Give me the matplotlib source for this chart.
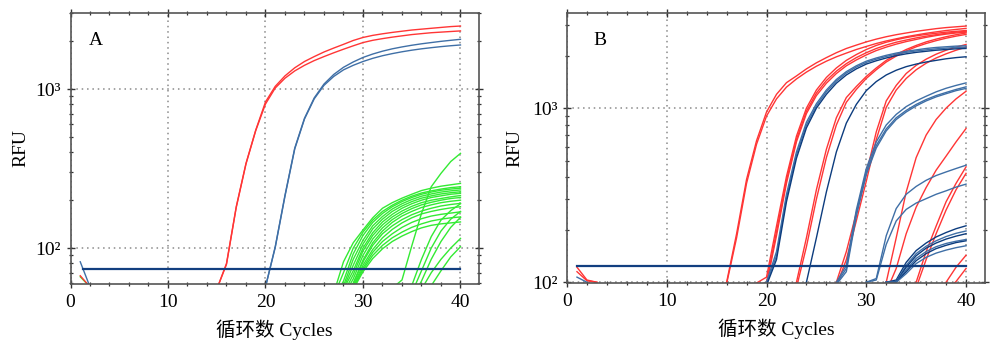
import matplotlib
matplotlib.use("Agg")
import matplotlib.pyplot as plt
import numpy as np
from matplotlib.ticker import LogLocator, NullFormatter, MultipleLocator, FixedLocator, FixedFormatter

# ---------------- data: panel A (values per cycle) ----------------
A_threshold = 73.8
A_thr_start = 1.3
A_red_start = 15
A_red = [
    [55, 80, 182, 341, 552, 830, 1040, 1210, 1360, 1490, 1600, 1710, 1810, 1910, 2020, 2110,
     2175, 2225, 2270, 2310, 2350, 2380, 2410, 2440, 2470, 2490],
    [55, 79, 180, 338, 548, 805, 1015, 1170, 1300, 1410, 1510, 1600, 1690, 1780, 1870, 1960,
     2025, 2075, 2120, 2160, 2200, 2230, 2260, 2280, 2300, 2320],
]
A_blue_start = 20
A_blue = [
    [57, 102, 215, 425, 655, 880, 1075, 1235, 1370, 1480, 1580, 1660, 1730, 1790, 1840, 1885,
     1925, 1960, 1995, 2025, 2055],
    [57, 101, 212, 420, 648, 868, 1055, 1200, 1320, 1410, 1490, 1560, 1620, 1670, 1715, 1755,
     1790, 1820, 1848, 1872, 1893],
]
A_green_start = 27
A_green = [
    [52, 82, 108, 130, 155, 178, 193, 206, 218, 230, 238, 245, 250, 255],
    [50, 70, 100, 126, 150, 170, 186, 200, 212, 222, 229, 235, 240, 243],
    [48, 62, 92, 120, 145, 165, 182, 196, 208, 218, 225, 231, 235, 238],
    [45, 58, 85, 112, 138, 158, 176, 190, 202, 212, 219, 225, 229, 232],
    [45, 56, 78, 106, 132, 152, 170, 184, 196, 206, 213, 219, 223, 226],
    [45, 55, 72, 100, 125, 146, 163, 178, 190, 200, 208, 213, 218, 221],
    [45, 52, 68, 96, 120, 140, 157, 171, 183, 193, 200, 205, 210, 214],
    [45, 50, 64, 90, 114, 134, 151, 165, 177, 187, 194, 200, 205, 208],
    [45, 50, 60, 84, 108, 128, 145, 159, 170, 180, 187, 193, 197, 200],
    [45, 50, 60, 82, 104, 123, 138, 151, 162, 171, 178, 184, 188, 191],
    [45, 48, 58, 78, 98, 116, 131, 144, 155, 164, 170, 175, 179, 182],
    [45, 47, 57, 75, 94, 110, 123, 135, 145, 153, 159, 163, 166, 169],
    [45, 47, 56, 73, 90, 104, 116, 126, 135, 142, 148, 152, 155, 157],
    [45, 46, 55, 71, 86, 99, 110, 119, 127, 134, 139, 142, 144, 146],
]
A_green_late_start = 33
A_green_late = [
    [56, 63, 103, 165, 243, 295, 350, 394],
    [45, 45, 58, 85, 118, 150, 172, 190],
    [45, 45, 52, 72, 100, 128, 152, 170],
    [45, 45, 48, 62, 85, 110, 135, 156],
    [45, 45, 45, 55, 70, 85, 100, 115],
    [45, 45, 45, 48, 58, 72, 88, 102],
]
A_init_start = 1
A_init_blue = [82, 57]
A_init_red = [67, 57]
A_init_green = [66, 57]

# ---------------- data: panel B ----------------
B_threshold = 124
B_thr_start = 1
B_R1_start = 15
B_R1 = [
    [90, 100, 190, 390, 650, 950, 1200, 1400, 1530, 1680, 1820, 1950, 2080, 2200, 2300, 2400,
     2490, 2570, 2640, 2700, 2760, 2810, 2860, 2900, 2930, 2960],
    [90, 98, 180, 370, 620, 900, 1130, 1320, 1470, 1610, 1740, 1860, 1970, 2070, 2170, 2260,
     2350, 2430, 2500, 2570, 2630, 2690, 2740, 2790, 2830, 2870],
]
B_R2_start = 19
B_R2 = [
    [99, 107, 210, 405, 690, 1000, 1270, 1500, 1700, 1880, 2030, 2170, 2290, 2390, 2470, 2540,
     2600, 2650, 2690, 2730, 2760, 2790],
    [90, 100, 195, 385, 660, 960, 1220, 1440, 1630, 1800, 1950, 2080, 2200, 2300, 2390, 2460,
     2530, 2590, 2640, 2690, 2730, 2760],
    [88, 97, 185, 370, 640, 930, 1180, 1390, 1580, 1750, 1890, 2020, 2140, 2240, 2330, 2410,
     2480, 2550, 2610, 2660, 2700, 2730],
]
B_R3_start = 22
B_R3 = [
    [90, 100, 180, 340, 580, 880, 1150, 1330, 1520, 1700, 1880, 2030, 2170, 2290, 2400, 2490,
     2570, 2640, 2700],
    [85, 93, 160, 300, 520, 800, 1080, 1280, 1480, 1660, 1840, 1990, 2130, 2250, 2350, 2440,
     2520, 2590, 2650],
]
B_R4_start = 26
B_R4 = [
    [90, 100, 150, 250, 420, 730, 1100, 1350, 1580, 1760, 1910, 2040, 2150, 2240, 2320],
    [88, 95, 135, 225, 380, 660, 1010, 1270, 1480, 1660, 1810, 1940, 2050, 2150, 2240],
]
B_R5_start = 31
B_R5 = [
    [90, 100, 180, 330, 520, 700, 860, 1000, 1130, 1250],
    [85, 88, 120, 190, 270, 350, 440, 530, 640, 764],
]
B_R6_start = 34
B_R6 = [
    [90, 100, 150, 210, 290, 370, 460],
    [85, 93, 135, 190, 260, 340, 422],
]
B_R7_start = 37
B_R7 = [
    [90, 100, 122, 143],
    [80, 90, 101, 120],
]
B_B2_start = 19
B_B2 = [
    [95, 100, 150, 320, 560, 830, 1060, 1270, 1460, 1620, 1750, 1860, 1940, 2010, 2070, 2120,
     2160, 2200, 2230, 2250, 2270, 2280],
    [93, 98, 142, 305, 540, 800, 1030, 1240, 1430, 1590, 1720, 1830, 1910, 1980, 2040, 2090,
     2130, 2160, 2190, 2210, 2230, 2240],
    [92, 96, 135, 290, 515, 770, 1000, 1200, 1390, 1550, 1680, 1790, 1870, 1940, 2000, 2050,
     2090, 2120, 2150, 2170, 2190, 2200],
]
B_B3_start = 23
B_B3 = [
    [90, 100, 180, 330, 560, 820, 1050, 1260, 1420, 1550, 1650, 1730, 1790, 1840, 1880, 1920,
     1950, 1972],
]
B_B4_start = 27
B_B4 = [
    [100, 125, 260, 450, 640, 800, 920, 1020, 1100, 1170, 1240, 1300, 1350, 1396],
    [98, 120, 250, 430, 610, 760, 880, 970, 1050, 1120, 1180, 1230, 1280, 1325],
    [97, 115, 240, 415, 590, 740, 860, 950, 1030, 1100, 1160, 1210, 1260, 1298],
]
B_B5_start = 30
B_B5 = [
    [100, 105, 185, 265, 320, 355, 385, 410, 430, 450, 470],
    [100, 103, 165, 225, 262, 285, 302, 320, 335, 352, 366],
]
B_B6_start = 32
B_B6 = [
    [100, 103, 130, 152, 168, 182, 193, 203, 211],
    [100, 101, 125, 146, 161, 173, 183, 191, 197],
    [100, 100, 122, 142, 157, 168, 177, 184, 190],
    [100, 100, 118, 137, 150, 160, 167, 172, 176],
    [100, 100, 115, 133, 146, 156, 163, 169, 173],
    [100, 100, 112, 128, 139, 147, 153, 158, 162],
]
B_init_start = 1
B_init_red = [[122, 103, 100], [115, 102, 100]]
B_init_blue = [[107, 100]]

x_ticks = [0, 10, 20, 30, 40]
y_ticks = [100, 1000]
y_ticklabels = ["10²", "10³"]

# ---------------- style ----------------
RED = "#ff3535"
BLUE_L = "#3f6fa6"
BLUE_D = "#0c3c7e"
GREEN = "#33ea33"
THR = "#123f80"
LW = 1.0
SERIF = ["Liberation Serif", "Noto Sans CJK SC"]

plt.rcParams["font.family"] = SERIF

fig = plt.figure(figsize=(10, 3.52), dpi=100)
axA = fig.add_axes([0.0705, 0.193, 0.4085, 0.770])
axB = fig.add_axes([0.567, 0.196, 0.418, 0.767])


def draw(ax, start, curves, colors, lw=LW, z=2):
    for i, vals in enumerate(curves):
        c = colors[i % len(colors)] if isinstance(colors, list) else colors
        xs = np.arange(start, start + len(vals))
        ax.plot(xs, vals, color=c, lw=lw, zorder=z, solid_joinstyle="round")


# panel A
draw(axA, A_green_start, A_green, GREEN)
draw(axA, A_green_late_start, A_green_late, GREEN)
draw(axA, A_red_start, A_red, RED)
draw(axA, A_blue_start, A_blue, BLUE_L)
draw(axA, A_init_start, [A_init_green], GREEN)
draw(axA, A_init_start, [A_init_red], RED)
draw(axA, A_init_start, [A_init_blue], BLUE_L)
axA.plot([A_thr_start, 40], [A_threshold, A_threshold], color=THR, lw=1.6, zorder=5)

# panel B
draw(axB, B_R1_start, B_R1, RED)
draw(axB, B_R2_start, B_R2, RED)
draw(axB, B_R3_start, B_R3, RED)
draw(axB, B_R4_start, B_R4, RED)
draw(axB, B_R5_start, B_R5, RED)
draw(axB, B_R6_start, B_R6, RED)
draw(axB, B_R7_start, B_R7, RED)
draw(axB, B_B2_start, B_B2, [BLUE_L, BLUE_L, BLUE_D])
draw(axB, B_B3_start, B_B3, BLUE_D)
draw(axB, B_B4_start, B_B4, BLUE_L)
draw(axB, B_B5_start, B_B5, BLUE_L)
draw(axB, B_B6_start, B_B6, [BLUE_D, BLUE_L, BLUE_D, BLUE_L, BLUE_D, BLUE_L])
draw(axB, B_init_start, B_init_red, RED)
draw(axB, B_init_start, B_init_blue, BLUE_L)
axB.plot([B_thr_start, 40], [B_threshold, B_threshold], color=THR, lw=1.6, zorder=5)


def style(ax, ylim, letter, lx):
    ax.set_yscale("log")
    ax.set_xlim(0, 41.9)
    ax.set_ylim(*ylim)
    ax.xaxis.set_major_locator(FixedLocator(x_ticks))
    ax.xaxis.set_minor_locator(MultipleLocator(2))
    ax.yaxis.set_major_locator(FixedLocator(y_ticks))
    ax.yaxis.set_major_formatter(FixedFormatter(y_ticklabels))
    ax.yaxis.set_minor_locator(LogLocator(base=10, subs=np.arange(2, 10)))
    ax.yaxis.set_minor_formatter(NullFormatter())
    ax.grid(True, which="major", color="#8a8a8a", linestyle=(0, (1, 2.5)), lw=1.1)
    ax.tick_params(which="both", direction="inout", top=True, right=True,
                   color="#333333", labelsize=14)
    ax.tick_params(which="major", length=6, width=1.0, pad=4)
    ax.tick_params(which="minor", length=3.5, width=0.9)
    for s in ax.spines.values():
        s.set_color("#555555")
        s.set_linewidth(1.2)
    ax.set_ylabel("RFU", fontsize=14)
    ax.set_xlabel("循环数 Cycles", fontsize=14, labelpad=6)
    ax.text(lx, 0.9, letter, transform=ax.transAxes, fontsize=14, va="center", ha="left")


style(axA, (59.4, 3006), "A", 0.044)
style(axB, (99, 3516), "B", 0.062)
axA.yaxis.set_label_coords(-0.10, 0.5)
axB.yaxis.set_label_coords(-0.105, 0.5)

fig.savefig("out.png", dpi=100)
